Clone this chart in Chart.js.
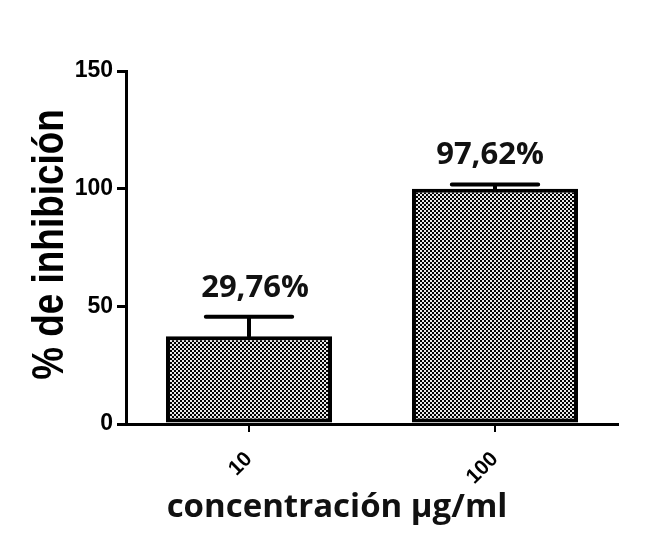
<!DOCTYPE html>
<html>
<head>
<meta charset="utf-8">
<script src="https://cdn.jsdelivr.net/npm/chart.js@4.4.1/dist/chart.umd.min.js"></script>
<style>
  html, body { margin: 0; padding: 0; background: #fff; }
  #wrap { width: 648px; height: 548px; }
</style>
</head>
<body>
<div id="wrap"><canvas id="c" width="648" height="548"></canvas></div>
<script>
const categories = ['10', '100'];
const inhibition = [37.3, 100.0];
const errorUpper = [8.3, 1.8];
const valueLabels = ['29,76%', '97,62%'];
const yTicks = [0, 50, 100, 150];
const xTitle = 'concentración µg/ml';
const yTitle = '% de inhibición';

const canvas = document.getElementById('c');
const ctx = canvas.getContext('2d');

function makePattern() {
  const t = document.createElement('canvas');
  t.width = 4; t.height = 4;
  const g = t.getContext('2d');
  g.fillStyle = '#e8e8e8';
  g.fillRect(0, 0, 4, 4);
  g.fillStyle = '#000000';
  g.fillRect(0, 0, 2, 2);
  g.fillRect(2, 2, 2, 2);
  return ctx.createPattern(t, 'repeat');
}

const overlay = {
  id: 'overlay',
  afterDatasetsDraw(chart) {
    const c = chart.ctx;
    const ys = chart.scales.y;
    const meta = chart.getDatasetMeta(0);
    c.save();
    meta.data.forEach((bar, i) => {
      const x = bar.x;
      const w = bar.width;
      const yTop = ys.getPixelForValue(inhibition[i]);
      const yErr = ys.getPixelForValue(inhibition[i] + errorUpper[i]);
      const half = w * 0.26;
      c.strokeStyle = '#000';
      c.lineWidth = 4;
      c.lineCap = 'round';
      c.beginPath();
      c.moveTo(x, yTop);
      c.lineTo(x, yErr);
      c.moveTo(x - half, yErr);
      c.lineTo(x + half, yErr);
      c.stroke();
      c.fillStyle = '#111';
      c.font = "bold 31px 'Open Sans'";
      c.textAlign = 'center';
      c.textBaseline = 'alphabetic';
      c.fillText(valueLabels[i], x + (i === 0 ? 6 : -5), yErr - 20);
    });
    c.restore();
  },
  afterDraw(chart) {
    const c = chart.ctx;
    const a = chart.chartArea;
    c.save();
    c.fillStyle = '#111';
    c.font = "bold 33px 'Open Sans'";
    c.textAlign = 'center';
    c.textBaseline = 'alphabetic';
    c.fillText(xTitle, (a.left + a.right) / 2 - 35, 517);
    c.translate(63, (a.top + a.bottom) / 2 - 3);
    c.rotate(-Math.PI / 2);
    c.scale(0.82, 1);
    c.fillStyle = '#000';
    c.font = "bold 45px 'Liberation Sans', Arial";
    c.fillText(yTitle, 0, 0);
    c.restore();
  }
};

new Chart(ctx, {
  type: 'bar',
  data: {
    labels: categories,
    datasets: [{
      data: inhibition,
      backgroundColor: makePattern(),
      borderColor: '#000',
      borderWidth: 4,
      borderSkipped: false,
      barPercentage: 0.675,
      categoryPercentage: 1.0
    }]
  },
  options: {
    responsive: false,
    animation: false,
    devicePixelRatio: 1,
    layout: { padding: { top: 71, right: 30, left: 0, bottom: 0 } },
    plugins: { legend: { display: false }, tooltip: { enabled: false } },
    scales: {
      x: {
        offset: true,
        grid: { display: true, drawOnChartArea: false, drawTicks: true, tickLength: 8, color: '#000', lineWidth: 2, offset: false },
        border: { display: true, color: '#000', width: 3 },
        ticks: {
          color: '#000',
          font: { family: "'Liberation Sans', Arial", weight: 'bold', size: 21 },
          minRotation: 45, maxRotation: 45, padding: 15
        },
        afterFit(scale) { scale.height = 124; }
      },
      y: {
        min: 0, max: 150,
        afterBuildTicks(scale) { scale.ticks = yTicks.map(v => ({ value: v })); },
        grid: { display: true, drawOnChartArea: false, drawTicks: true, tickLength: 9, color: '#000', lineWidth: 3 },
        border: { display: true, color: '#000', width: 3 },
        ticks: {
          color: '#000',
          font: { family: "'Liberation Sans', Arial", weight: 'bold', size: 23 },
          padding: 4
        },
        afterFit(scale) { scale.width = 126; }
      }
    }
  },
  plugins: [overlay]
});
</script>
</body>
</html>
